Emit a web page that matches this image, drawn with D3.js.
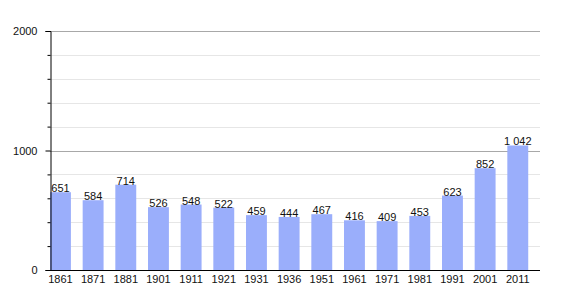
<!DOCTYPE html>
<html lang="en">
<head>
  <meta charset="UTF-8">
  <title>Population</title>
  <script src="https://d3js.org/d3.v7.min.js"></script>
  <style>
    body { margin: 0; background: #fff; }
    text { font-family: "Liberation Sans", Arial, sans-serif; }
  </style>
</head>
<body>
  <script>
    // data
    var years = ["1861", "1871", "1881", "1901", "1911", "1921", "1931", "1936",
      "1951", "1961", "1971", "1981", "1991", "2001", "2011"];
    var population = [651, 584, 714, 526, 548, 522, 459, 444, 467, 416, 409, 453, 623, 852, 1042];
    var valueLabels = ["651", "584", "714", "526", "548", "522", "459", "444", "467",
      "416", "409", "453", "623", "852", "1 042"];
    var majorTicks = [0, 1000, 2000];
    var minorTicks = [200, 400, 600, 800, 1200, 1400, 1600, 1800];

    var width = 570, height = 300;
    var plotLeft = 50, plotRight = 540, plotTop = 31, plotBottom = 270;

    var svg = d3.select("body").append("svg")
      .attr("width", width)
      .attr("height", height);

    var x = d3.scaleBand().domain(years).range([plotLeft, plotRight]).paddingInner(0).paddingOuter(0);
    var y = d3.scaleLinear().domain([0, 2000]).range([plotBottom, plotTop]);
    var barW = x.bandwidth() * 0.64;

    // minor grid
    svg.selectAll(".minor")
      .data(minorTicks)
      .enter().append("line")
      .attr("x1", plotLeft).attr("x2", plotRight)
      .attr("y1", function (d) { return Math.round(y(d)) + 0.5; })
      .attr("y2", function (d) { return Math.round(y(d)) + 0.5; })
      .attr("stroke", "#e6e6e6");

    // major grid
    svg.selectAll(".major")
      .data([1000, 2000])
      .enter().append("line")
      .attr("x1", plotLeft).attr("x2", plotRight)
      .attr("y1", function (d) { return Math.round(y(d)) + 0.5; })
      .attr("y2", function (d) { return Math.round(y(d)) + 0.5; })
      .attr("stroke", "#a8a8a8");

    // bars
    svg.selectAll(".bar")
      .data(population)
      .enter().append("rect")
      .attr("x", function (d, i) { return x(years[i]); })
      .attr("y", function (d) { return y(d); })
      .attr("width", barW)
      .attr("height", function (d) { return y(0) - y(d); })
      .attr("fill", "#9aaefb");

    // value labels
    svg.selectAll(".val")
      .data(population)
      .enter().append("text")
      .attr("x", function (d, i) { return x(years[i]) + barW / 2; })
      .attr("y", function (d) { return y(d); })
      .attr("text-anchor", "middle")
      .attr("font-size", "11px")
      .attr("fill", "#111")
      .text(function (d, i) { return valueLabels[i]; });

    // y axis
    var yAxis = svg.append("g")
      .attr("transform", "translate(" + (plotLeft + 0.5) + ",0)")
      .call(d3.axisLeft(y).tickValues(majorTicks).tickSize(5).tickPadding(8).tickFormat(d3.format("d")));
    yAxis.select(".domain").attr("stroke", "#000");
    yAxis.selectAll("text").attr("font-size", "11px").attr("fill", "#111").attr("font-family", null);

    svg.append("g")
      .attr("transform", "translate(" + (plotLeft + 0.5) + ",0)")
      .call(d3.axisLeft(y).tickValues(minorTicks).tickSize(3).tickFormat(""))
      .select(".domain").remove();

    // x axis
    var xAxis = svg.append("g")
      .attr("transform", "translate(0," + (plotBottom + 0.5) + ")")
      .call(d3.axisBottom(x).tickSize(0).tickPadding(5));
    xAxis.select(".domain").attr("stroke", "#000").attr("d", "M" + plotLeft + ",0H" + plotRight);
    xAxis.selectAll(".tick").attr("transform", function (d) {
      return "translate(" + (x(d) + barW / 2) + ",0)";
    });
    xAxis.selectAll("text").attr("font-size", "11px").attr("fill", "#111").attr("font-family", null);
  </script>
</body>
</html>
